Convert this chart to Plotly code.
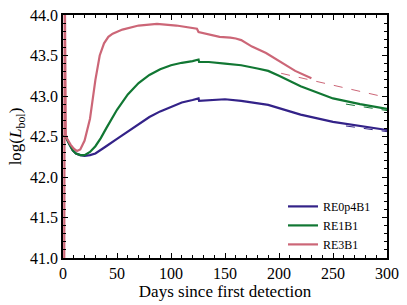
import plotly.graph_objects as go

# ---- data ----
blue_days = [1, 3, 6, 9, 12, 16, 20, 25, 30, 35, 40, 50, 60, 70, 80, 90, 100, 110, 120, 125.5, 126,
             135, 150, 165, 175, 190, 200, 220, 250, 275, 300]
blue_vals = [42.52, 42.48, 42.40, 42.33, 42.29, 42.27, 42.26, 42.27, 42.29, 42.33, 42.38, 42.47, 42.56,
             42.66, 42.74, 42.81, 42.87, 42.92, 42.95, 42.97, 42.94, 42.95, 42.96, 42.94, 42.92, 42.89,
             42.85, 42.77, 42.68, 42.63, 42.58]

green_days = [1, 3, 6, 9, 12, 16, 20, 25, 30, 35, 40, 50, 60, 70, 80, 90, 100, 110, 120, 125.5, 126,
              135, 150, 165, 180, 190, 200, 220, 250, 275, 300]
green_vals = [42.52, 42.48, 42.40, 42.33, 42.29, 42.27, 42.27, 42.31, 42.38, 42.48, 42.60, 42.83, 43.02,
              43.16, 43.26, 43.33, 43.38, 43.41, 43.43, 43.45, 43.42, 43.42, 43.40, 43.38, 43.34, 43.31,
              43.25, 43.12, 42.97, 42.90, 42.84]

red_days = [1.1, 1.6, 2.6, 4, 7, 10, 13, 16, 20, 25, 30, 34, 38, 42, 46, 55, 70, 87, 105, 124, 125.5,
            135, 145, 155, 160, 165, 175, 188, 200, 215, 230]
red_vals = [40.5, 44.5, 42.52, 42.47, 42.40, 42.35, 42.32, 42.34, 42.45, 42.72, 43.20, 43.50, 43.65,
            43.73, 43.77, 43.82, 43.87, 43.89, 43.87, 43.83, 43.79, 43.76, 43.73, 43.72, 43.71, 43.69,
            43.61, 43.53, 43.43, 43.31, 43.22]

red_dash_days = [202, 250, 297]
red_dash_vals = [43.28, 43.13, 42.99]
green_dash_days = [262, 300]
green_dash_vals = [42.90, 42.82]
blue_dash_days = [262, 300]
blue_dash_vals = [42.63, 42.56]

names = ["RE0p4B1", "RE1B1", "RE3B1"]
colors = ["#332288", "#117733", "#CC6677"]

fig = go.Figure()
for d, v, c in [(blue_dash_days, blue_dash_vals, colors[0]),
                (green_dash_days, green_dash_vals, colors[1]),
                (red_dash_days, red_dash_vals, colors[2])]:
    fig.add_trace(go.Scatter(x=d, y=v, mode="lines", showlegend=False,
                             line=dict(color=c, width=1, dash="dash")))

for d, v, n, c in [(blue_days, blue_vals, names[0], colors[0]),
                   (green_days, green_vals, names[1], colors[1]),
                   (red_days, red_vals, names[2], colors[2])]:
    fig.add_trace(go.Scatter(x=d, y=v, mode="lines", name=n,
                             line=dict(color=c, width=2.2)))

font = "Liberation Serif"
axis_common = dict(showgrid=False, zeroline=False, showline=True, linecolor="black", linewidth=1.5,
                   mirror="allticks", ticks="inside", ticklen=5, tickwidth=1, tickcolor="black",
                   automargin=False,
                   tickfont=dict(family=font, size=16, color="black"))

fig.update_xaxes(range=[0, 300], dtick=50, tick0=0,
                 minor=dict(ticks="inside", ticklen=3, dtick=10, tickcolor="black", tickwidth=1),
                 title=dict(text="Days since first detection", font=dict(family=font, size=17, color="black"),
                            standoff=2),
                 **axis_common)
fig.update_yaxes(range=[41.0, 44.0], dtick=0.5, tick0=41, tickformat=".1f",
                 minor=dict(ticks="inside", ticklen=3, dtick=0.1, tickcolor="black", tickwidth=1),
                 title=dict(text="log(<i>L</i><sub>bol</sub>)", font=dict(family=font, size=17, color="black"),
                            standoff=4),
                 **axis_common)

fig.update_layout(
    width=407, height=305,
    margin=dict(l=63, r=20, t=15, b=47),
    plot_bgcolor="white", paper_bgcolor="white",
    legend=dict(x=0.679, xanchor="left", y=0.272, yanchor="top",
                font=dict(family=font, size=12, color="black"),
                bgcolor="rgba(255,255,255,0)", tracegroupgap=0, itemwidth=30),
)

fig.write_html("out.html", config={"displayModeBar": False},
               post_script="document.body.style.margin='0';document.body.style.overflow='hidden';")
